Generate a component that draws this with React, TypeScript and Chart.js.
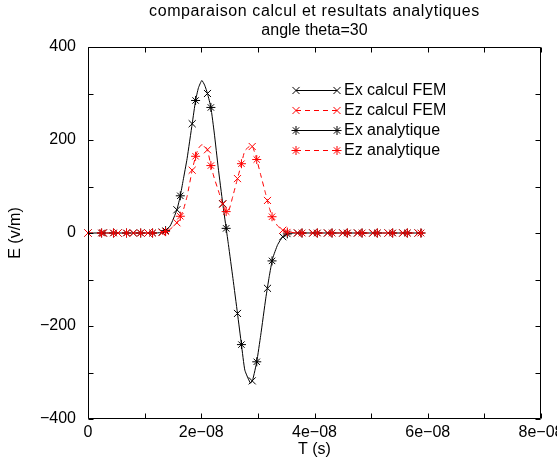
import React, { useEffect, useRef } from 'react';
import { Chart, registerables } from 'chart.js';
import { drawPoint } from 'chart.js/helpers';

Chart.register(...registerables);

// ---------- text ----------
const TITLE_LINES = ['comparaison calcul et resultats analytiques', 'angle theta=30'];
const X_TITLE = 'T (s)';
const Y_TITLE = 'E (v/m)';
const LEGEND_LABELS = ['Ex calcul FEM', 'Ez calcul FEM', 'Ex analytique', 'Ez analytique'];

// ---------- ticks ----------
const X_TICK_VALUES = [0, 2e-8, 4e-8, 6e-8, 8e-8];
const X_TICK_LABELS = ['0', '2e\u221208', '4e\u221208', '6e\u221208', '8e\u221208'];
const X_MINOR = [0, 1e-8, 2e-8, 3e-8, 4e-8, 5e-8, 6e-8, 7e-8, 8e-8];
const Y_TICK_VALUES = [-400, -200, 0, 200, 400];
const Y_TICK_LABELS = ['\u2212400', '\u2212200', '0', '200', '400'];
const Y_MINOR = [-400, -300, -200, -100, 0, 100, 200, 300, 400];

// time values below are in units of 1e-8 s
const T_UNIT = 1e-8;

// continuous curves (lines)
const CURVE_T = [0, 0.5, 1.0, 1.2, 1.33, 1.45, 1.57, 1.63, 1.68, 1.75, 1.84, 1.9, 1.95, 2.01, 2.06, 2.11, 2.17, 2.23, 2.3, 2.38, 2.44, 2.48, 2.56, 2.64, 2.71, 2.77, 2.87, 2.91, 2.98, 3.05, 3.14, 3.2, 3.26, 3.35, 3.44, 3.55, 3.7, 4.5, 5.2, 5.92];
const EX_CURVE = [0, 0, 0, 0, 2, 15, 50, 80, 113, 160, 235, 285, 312, 328, 318, 300, 270, 215, 140, 63, 10, -25, -98, -173, -240, -295, -323, -315, -277, -220, -140, -94, -55, -25, -8, -1, 0, 0, 0, 0];
const EZ_CURVE = [0, 0, 0, 0, 1, 8, 22, 36, 48, 79, 135, 165, 182, 190, 187, 179, 145, 118, 92, 62, 46, 45, 80, 117, 149, 177, 188, 185, 158, 125, 83, 55, 33, 15, 6, 2, 0, 0, 0, 0];

// FEM sample markers (x)
const FEM_T = [0, 0.27, 0.53, 0.8, 1.06, 1.31, 1.57, 1.84, 2.11, 2.38, 2.64, 2.9, 3.17, 3.44, 3.7, 3.97, 4.23, 4.5, 4.76, 5.03, 5.3, 5.56, 5.83];
const EX_FEM = [0, 0, 0, 0, 0, 2, 50, 235, 300, 63, -173, -318, -119, -8, 0, 0, 0, 0, 0, 0, 0, 0, 0];
const EZ_FEM = [0, 0, 0, 0, 0, 1, 22, 135, 179, 62, 117, 186, 70, 6, 0, 0, 0, 0, 0, 0, 0, 0, 0];

// analytic sample markers (*)
const AN_T = [0.24, 0.45, 0.68, 0.93, 1.14, 1.37, 1.63, 1.9, 2.17, 2.44, 2.71, 2.98, 3.25, 3.52, 3.78, 4.05, 4.31, 4.58, 4.84, 5.11, 5.38, 5.64, 5.88];
const EX_AN = [0, 0, 0, 0, 0, 5, 80, 285, 270, 10, -240, -277, -60, -2, 0, 0, 0, 0, 0, 0, 0, 0, 0];
const EZ_AN = [0, 0, 0, 0, 0, 3, 36, 165, 145, 46, 149, 158, 35, 2, 0, 0, 0, 0, 0, 0, 0, 0, 0];

const FONT = '"Liberation Sans", Arial, Helvetica, sans-serif';
const BLACK = '#000000';
const RED = '#ff0000';
const DASH = [5, 4];

const pts = (ts: number[], vs: number[]) => ts.map((t, i) => ({ x: t * T_UNIT, y: vs[i] }));

const LEGEND_STYLE = [
  { color: BLACK, dash: [] as number[], style: 'crossRot', radius: 5 },
  { color: RED, dash: DASH, style: 'crossRot', radius: 5 },
  { color: BLACK, dash: [] as number[], style: 'star', radius: 4.5 },
  { color: RED, dash: DASH, style: 'star', radius: 4.5 },
];

const framePlugin = {
  id: 'frameTicks',
  afterDatasetsDraw(chart: any) {
    const { ctx, chartArea: a, scales } = chart;
    const L = Math.round(a.left) + 0.5;
    const R = Math.round(a.right) - 0.5;
    const T = Math.round(a.top) + 0.5;
    const B = Math.round(a.bottom) - 0.5;
    const tl = 5;
    ctx.save();
    ctx.strokeStyle = BLACK;
    ctx.lineWidth = 1;
    ctx.setLineDash([]);
    ctx.beginPath();
    ctx.rect(L, T, R - L, B - T);
    for (const v of X_MINOR) {
      const x = Math.round(scales.x.getPixelForValue(v)) + 0.5;
      ctx.moveTo(x, B); ctx.lineTo(x, B - tl);
      ctx.moveTo(x, T); ctx.lineTo(x, T + tl);
    }
    for (const v of Y_MINOR) {
      const y = Math.round(scales.y.getPixelForValue(v)) + 0.5;
      ctx.moveTo(L, y); ctx.lineTo(L + tl, y);
      ctx.moveTo(R, y); ctx.lineTo(R - tl, y);
    }
    ctx.stroke();
    ctx.restore();
  },
  afterDraw(chart: any) {
    const { ctx, chartArea: a } = chart;
    ctx.save();
    // titles, centred on the plot area
    ctx.fillStyle = BLACK;
    ctx.font = `16px ${FONT}`;
    ctx.textAlign = 'center';
    ctx.textBaseline = 'middle';
    const cx = (a.left + a.right) / 2;
    (ctx as any).letterSpacing = '0.6px';
    ctx.fillText(TITLE_LINES[0], cx, 12);
    (ctx as any).letterSpacing = '0px';
    ctx.fillText(TITLE_LINES[1], cx, 31);

    ctx.textBaseline = 'middle';
    ctx.textAlign = 'left';
    LEGEND_LABELS.forEach((label, i) => {
      const s = LEGEND_STYLE[i];
      const y = a.top + 43 + 20 * i;
      const x1 = a.left + 208;
      const x2 = a.left + 249;
      ctx.strokeStyle = s.color;
      ctx.lineWidth = 1;
      ctx.setLineDash(s.dash);
      ctx.beginPath();
      ctx.moveTo(x1, y + 0.5);
      ctx.lineTo(x2, y + 0.5);
      ctx.stroke();
      ctx.setLineDash([]);
      ctx.fillStyle = s.color;
      drawPoint(ctx, { pointStyle: s.style, radius: s.radius, rotation: 0, borderWidth: 1 } as any, x1, y + 0.5);
      drawPoint(ctx, { pointStyle: s.style, radius: s.radius, rotation: 0, borderWidth: 1 } as any, x2, y + 0.5);
      ctx.fillStyle = BLACK;
      ctx.fillText(label, a.left + 256, y + 1);
    });
    ctx.restore();
  },
};

export default function App() {
  const ref = useRef<HTMLCanvasElement | null>(null);
  useEffect(() => {
    if (!ref.current) return;
    const font = { family: FONT, size: 16, weight: 'normal' as const, lineHeight: 1.2 };
    const chart = new Chart(ref.current, {
      type: 'scatter',
      data: {
        datasets: [
          { label: 'Ez analytique', data: pts(AN_T, EZ_AN), showLine: false, pointStyle: 'star', pointRadius: 4.5, pointBorderWidth: 1, borderColor: RED, backgroundColor: RED, clip: false } as any,
          { label: 'Ex analytique', data: pts(AN_T, EX_AN), showLine: false, pointStyle: 'star', pointRadius: 4.5, pointBorderWidth: 1, borderColor: BLACK, backgroundColor: BLACK, clip: false },
          { label: 'Ez calcul FEM', data: pts(FEM_T, EZ_FEM), showLine: false, pointStyle: 'crossRot', pointRadius: 5, pointBorderWidth: 1, borderColor: RED, backgroundColor: RED, clip: false },
          { label: 'Ez line', data: pts(CURVE_T, EZ_CURVE), showLine: true, pointRadius: 0, borderWidth: 1, borderColor: RED, borderDash: DASH, tension: 0.15, clip: false },
          { label: 'Ex calcul FEM', data: pts(FEM_T, EX_FEM), showLine: false, pointStyle: 'crossRot', pointRadius: 5, pointBorderWidth: 1, borderColor: BLACK, backgroundColor: BLACK, clip: false },
          { label: 'Ex line', data: pts(CURVE_T, EX_CURVE), showLine: true, pointRadius: 0, borderWidth: 1, borderColor: BLACK, tension: 0.15, clip: false },
        ],
      },
      options: {
        responsive: false,
        animation: false,
        devicePixelRatio: 1,
        events: [],
        layout: { padding: { left: 0, right: 16, top: 47, bottom: 0 } },
        plugins: {
          legend: { display: false },
          tooltip: { enabled: false },
          title: { display: false },
        },
        scales: {
          x: {
            type: 'linear',
            min: 0,
            max: 8e-8,
            afterBuildTicks: (s: any) => { s.ticks = X_TICK_VALUES.map((v) => ({ value: v })); },
            afterFit: (s: any) => { s.height = 48; s.paddingLeft = 0; s.paddingRight = 0; },
            ticks: {
              callback: (_v: any, i: number) => X_TICK_LABELS[i],
              autoSkip: false,
              maxRotation: 0,
              minRotation: 0,
              padding: 4,
              color: BLACK,
              font,
            },
            grid: { display: false, drawTicks: false },
            border: { display: false },
            title: { display: true, text: X_TITLE, color: BLACK, font, padding: { top: 0, bottom: 7.4 } },
          },
          y: {
            type: 'linear',
            min: -400,
            max: 400,
            afterBuildTicks: (s: any) => { s.ticks = Y_TICK_VALUES.map((v) => ({ value: v })); },
            afterFit: (s: any) => { s.width = 88; s.paddingTop = 0; s.paddingBottom = 0; },
            ticks: {
              callback: (_v: any, i: number) => Y_TICK_LABELS[i],
              autoSkip: false,
              padding: 12,
              color: BLACK,
              font,
            },
            grid: { display: false, drawTicks: false },
            border: { display: false },
            title: { display: true, text: Y_TITLE, color: BLACK, font, padding: { top: 6.4, bottom: 0 } },
          },
        },
      },
      plugins: [framePlugin],
    });
    return () => chart.destroy();
  }, []);

  return (
    <div style={{ position: 'fixed', left: 0, top: 0, width: 557, height: 467, background: '#fff' }}>
      <canvas ref={ref} width={557} height={467} style={{ display: 'block', width: 557, height: 467 }} />
    </div>
  );
}
